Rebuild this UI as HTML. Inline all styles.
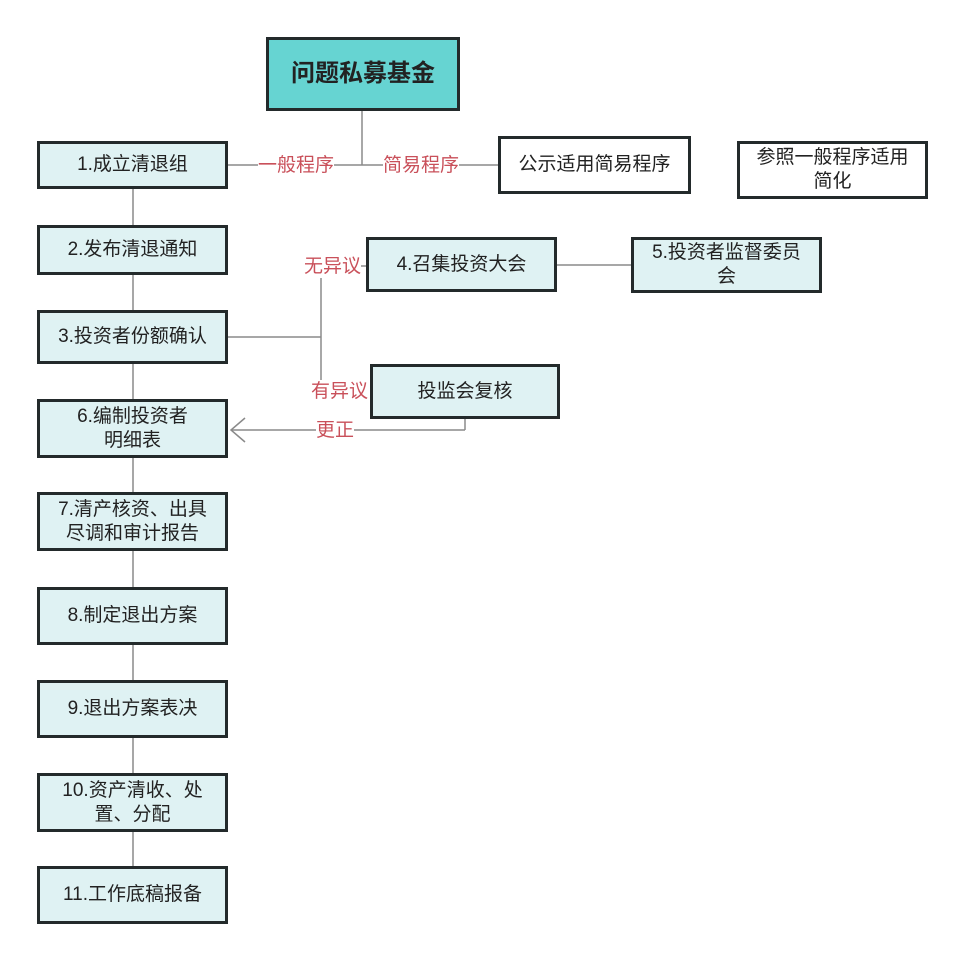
<!DOCTYPE html>
<html><head><meta charset="utf-8"><style>
body{margin:0;width:964px;height:961px;background:#fff;position:relative;overflow:hidden;font-family:"Liberation Sans","Noto Sans CJK SC",sans-serif;}
.b{position:absolute;box-sizing:border-box;border:3px solid #232a2b;background:#dff2f3;display:flex;align-items:center;justify-content:center;text-align:center;font-size:19px;line-height:24px;color:#222;}
.w{background:#fff;}
.l{position:absolute;font-size:19px;color:#c9505a;background:#fff;line-height:22px;white-space:nowrap;}
</style></head><body>
<svg width="964" height="961" style="position:absolute;left:0;top:0">
<g stroke="#8a8a8a" stroke-width="1.5" fill="none">
<line x1="362" y1="110" x2="362" y2="165"/>
<line x1="228" y1="165" x2="498" y2="165"/>
<line x1="133" y1="189" x2="133" y2="866"/>
<line x1="228" y1="337" x2="321" y2="337"/>
<line x1="321" y1="276" x2="321" y2="380"/>
<line x1="360" y1="266" x2="366" y2="266"/>
<line x1="556" y1="265" x2="631" y2="265"/>
<line x1="465" y1="418" x2="465" y2="430"/>
<line x1="231" y1="430" x2="465" y2="430"/>
<polyline points="245,418 231,430 245,442"/>
</g></svg>
<div class="b" style="left:266px;top:37px;width:194px;height:74px;background:#66d4d2;font-size:24px;font-weight:bold;">问题私募基金</div>
<div class="b" style="left:37px;top:141px;width:191px;height:48px;">1.成立清退组</div>
<div class="b" style="left:37px;top:225px;width:191px;height:50px;">2.发布清退通知</div>
<div class="b" style="left:37px;top:310px;width:191px;height:54px;">3.投资者份额确认</div>
<div class="b" style="left:37px;top:399px;width:191px;height:59px;">6.编制投资者<br>明细表</div>
<div class="b" style="left:37px;top:492px;width:191px;height:59px;">7.清产核资、出具<br>尽调和审计报告</div>
<div class="b" style="left:37px;top:587px;width:191px;height:58px;">8.制定退出方案</div>
<div class="b" style="left:37px;top:680px;width:191px;height:58px;">9.退出方案表决</div>
<div class="b" style="left:37px;top:773px;width:191px;height:59px;">10.资产清收、处<br>置、分配</div>
<div class="b" style="left:37px;top:866px;width:191px;height:58px;">11.工作底稿报备</div>
<div class="b w" style="left:498px;top:136px;width:193px;height:58px;">公示适用简易程序</div>
<div class="b w" style="left:737px;top:141px;width:191px;height:58px;">参照一般程序适用<br>简化</div>
<div class="b" style="left:366px;top:237px;width:191px;height:55px;">4.召集投资大会</div>
<div class="b" style="left:631px;top:237px;width:191px;height:56px;">5.投资者监督委员<br>会</div>
<div class="b" style="left:370px;top:364px;width:190px;height:55px;">投监会复核</div>
<div class="l" style="left:258px;top:155px;">一般程序</div>
<div class="l" style="left:383px;top:155px;">简易程序</div>
<div class="l" style="left:304px;top:256px;">无异议</div>
<div class="l" style="left:311px;top:381px;">有异议</div>
<div class="l" style="left:316px;top:420px;">更正</div>
</body></html>
